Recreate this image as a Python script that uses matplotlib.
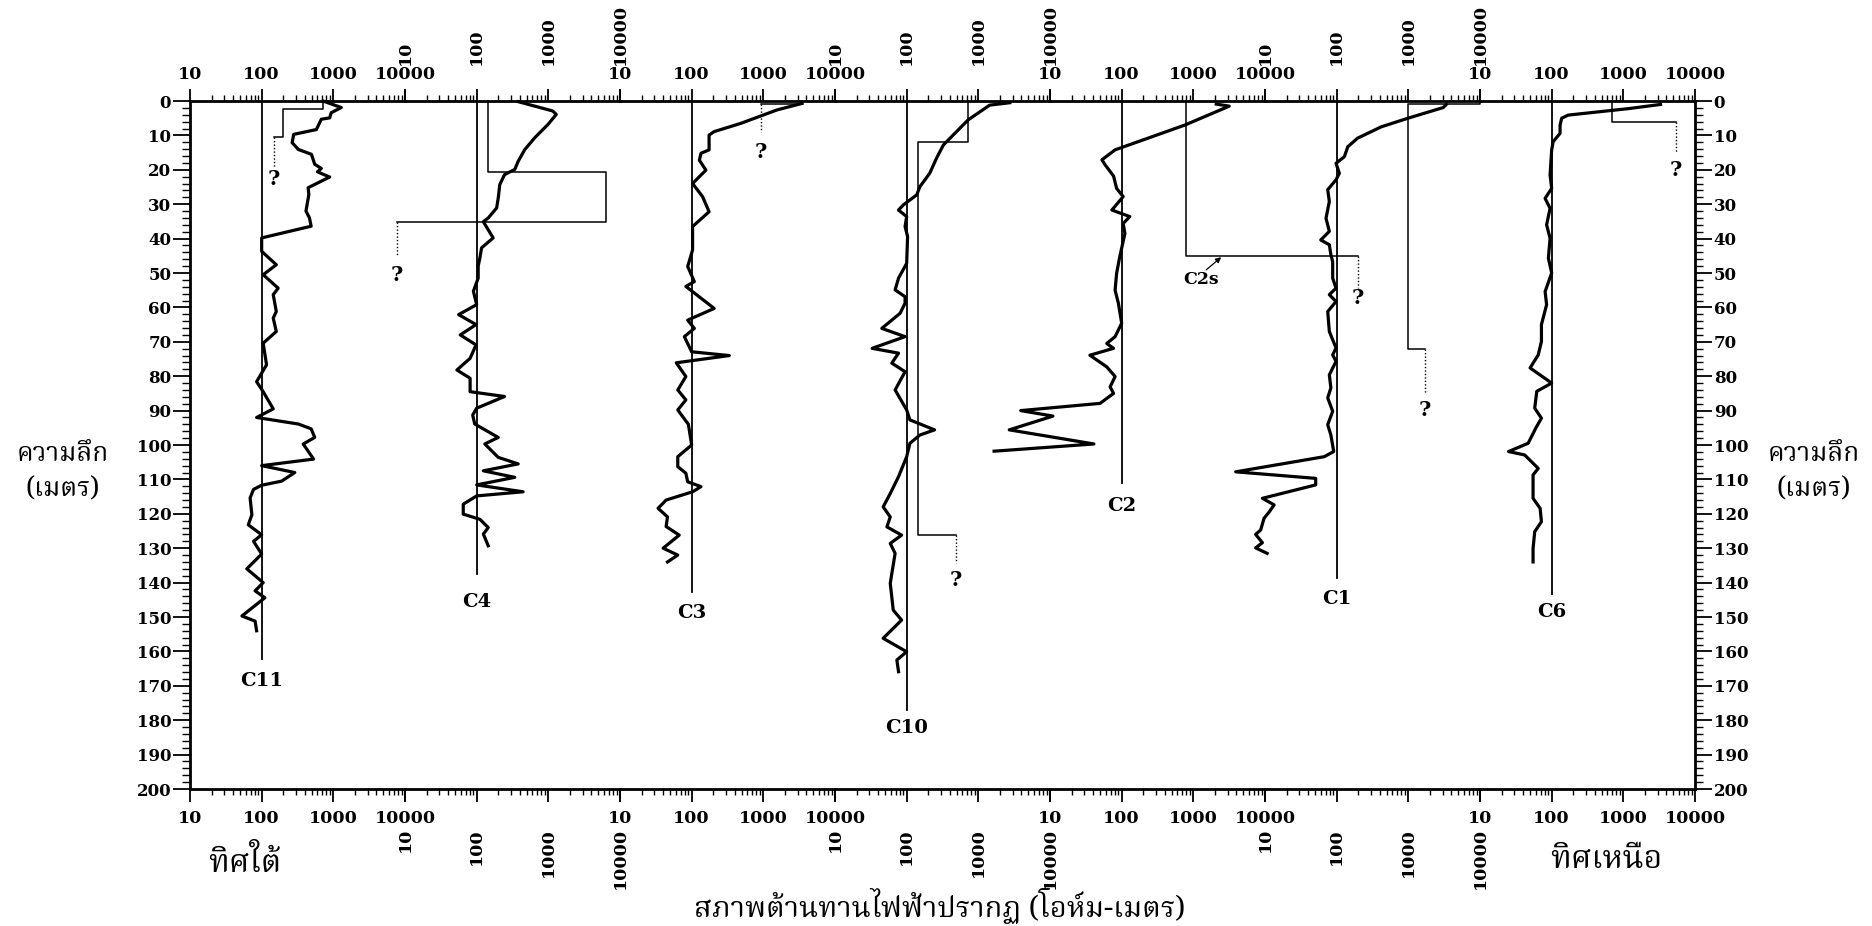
import numpy as np
import matplotlib
matplotlib.use("Agg")
import matplotlib.pyplot as plt
from matplotlib import font_manager
from matplotlib.ticker import FixedLocator, LogLocator, NullFormatter, MultipleLocator

# ---------------- data (depth m, apparent resistivity ohm-m) ----------------
stations = ["C11", "C4", "C3", "C10", "C2", "C1", "C6"]
decade_ticks = [10, 100, 1000, 10000]
decade_labels = ["10", "100", "1000", "10000"]

c11_profile = [(0, 718), (1.9, 1290), (3.4, 935), (4.9, 890), (5.3, 680), (8.3, 580), (9.7, 280),
               (12.1, 266), (14.1, 325), (15.5, 495), (18.4, 550), (19.6, 680), (20.6, 600),
               (22.1, 890), (25.2, 445), (27.2, 455), (32, 415), (34, 465), (36.4, 490), (39.8, 100),
               (43.7, 100), (47.6, 160), (50.5, 105), (54.4, 170), (56.3, 145), (61.2, 160),
               (63.1, 145), (67, 160), (70.4, 105), (76.7, 117), (81.6, 85), (84.5, 105), (89.5, 145),
               (92, 85), (93.9, 325), (95.3, 490), (97.8, 550), (99.7, 380), (104.1, 530), (106, 100),
               (108, 290), (110.5, 190), (111.7, 100), (112.9, 77), (115.4, 69), (120.3, 73),
               (123.2, 65), (126.1, 100), (128, 77), (131.7, 100), (136, 62), (140, 105), (142.4, 81),
               (144.4, 111), (149.7, 53), (151.2, 81), (154, 85)]
c4_profile = [(0.2, 380), (2.9, 1150), (3.9, 1290), (6.8, 990), (10.7, 645), (14.1, 470), (17.5, 380),
              (19.9, 340), (21.4, 245), (24.3, 210), (28.2, 200), (31.1, 190), (34, 145), (35.1, 124),
              (39.8, 170), (42.7, 117), (45.6, 111), (48, 105), (51.5, 105), (55.3, 90), (59.2, 100),
              (62.1, 56), (65, 98), (68, 59), (70.9, 98), (74.8, 81), (78.2, 53), (80.6, 81), (84.5, 81),
              (85.9, 245), (89.3, 100), (91.3, 88), (93.9, 94), (97.8, 200), (99.7, 130), (103.6, 200),
              (105.5, 380), (107.5, 124), (109.4, 340), (111.6, 100), (113.6, 445), (114.8, 100),
              (117.2, 65), (120.1, 65), (121.6, 111), (124, 145), (125.9, 124), (129.3, 145)]
c3_profile = [(0.7, 3470), (2.6, 1550), (6.5, 485), (8.9, 206), (9.9, 175), (14.2, 175), (15.2, 135),
              (17.2, 128), (20.1, 158), (22, 128), (24, 103), (27.8, 142), (32.2, 175), (36.5, 103),
              (43.3, 103), (48.1, 88), (52.5, 109), (53.9, 83), (60.3, 206), (63.7, 88), (66.1, 109),
              (68.5, 79), (72.9, 100), (74, 335), (76.1, 61), (80.1, 83), (84, 64), (86.9, 83),
              (89.8, 64), (94, 90), (100, 100), (103.4, 64), (106.3, 64), (108.2, 83), (110.7, 88),
              (112.1, 135), (113.6, 103), (116, 44), (118.4, 34), (120.9, 46), (123.7, 44), (126.2, 67),
              (130, 40), (132, 64), (134, 46)]
c10_profile = [(0.5, 2750), (1.2, 1440), (5.5, 720), (9.4, 470), (12.8, 325), (16.7, 260), (21, 210),
               (24.9, 153), (27.3, 138), (30.2, 90), (31.7, 77), (33.6, 100), (36.5, 95), (39.4, 103),
               (47.2, 100), (51.5, 77), (54.9, 69), (56.9, 95), (58.8, 95), (61.7, 81), (66.1, 45),
               (68.5, 95), (71.9, 33), (73.3, 77), (76.2, 62), (78.7, 95), (84, 69), (89.8, 100),
               (92.7, 111), (95.6, 245), (97.1, 153), (99.5, 111), (103.4, 100), (109.2, 77), (114.1, 59),
               (118, 47), (120.9, 59), (123.8, 53), (126.2, 85), (128.6, 59), (131.5, 69), (140.2, 59),
               (148, 65), (150.9, 85), (156.2, 47), (160.1, 100), (162.5, 73), (165.9, 77)]
c2_profile = [(0.9, 2090), (1.5, 3170), (7, 760), (14.2, 81), (17.1, 53), (18.6, 59), (21.8, 77),
              (25.4, 85), (27.8, 105), (31.7, 73), (33.6, 130), (35.6, 105), (38.5, 111), (45.3, 94),
              (50.1, 85), (55, 81), (58.8, 90), (64.6, 100), (68.5, 81), (70.5, 62), (71.9, 77),
              (73.9, 36), (77.3, 62), (80.1, 81), (83.1, 69), (85, 77), (87.9, 50), (90, 3.9),
              (91.6, 11), (95.6, 2.7), (99.7, 41), (101.8, 1.66)]
c1_profile = [(1, 3390), (1.9, 3070), (5, 990), (7.5, 420), (10.8, 196), (13.3, 143), (16.2, 128),
              (18.1, 98), (21, 109), (22.9, 98), (25.8, 75), (29.2, 79), (34.1, 71), (37.9, 79),
              (40.4, 60), (41.8, 79), (44.7, 83), (46.7, 88), (51.5, 88), (54.4, 98), (56.3, 79),
              (58.3, 98), (61.2, 75), (67, 79), (71.8, 98), (73.8, 88), (75.7, 98), (79.6, 79),
              (83.4, 83), (86.3, 75), (90.2, 88), (94.1, 75), (97.1, 83), (101.9, 91), (103.4, 67),
              (107.8, 3.9), (109.7, 51), (111.6, 51), (115.5, 9.2), (117.4, 13.4), (119.4, 11.5),
              (121.3, 9.7), (124.7, 8.7), (126, 7.4), (128.4, 9.2), (129.9, 7.4), (131.5, 10.7)]
c6_profile = [(1, 3300), (2.2, 1200), (4.1, 170), (5, 138), (7, 131), (9.4, 131), (11.8, 105),
              (14.2, 100), (21.5, 95), (25.4, 100), (28.3, 81), (31.2, 95), (36, 85), (39.9, 95),
              (45.7, 90), (50, 100), (55.4, 81), (59.2, 85), (65, 72), (69.9, 72), (73.8, 65),
              (77.6, 50), (82, 100), (84.4, 62), (89.3, 58), (92.2, 72), (95.1, 60), (99.5, 47),
              (101.9, 25), (102.9, 42), (106.8, 65), (108.7, 55), (115.5, 55), (118.4, 69),
              (122.3, 72), (125.2, 58), (130.1, 55), (134, 55)]

# layered interpretations (solid) and uncertain continuation (dotted) + "?" mark
c11_model = [(0, 718), (2.4, 718), (2.4, 198), (10.5, 198), (10.5, 147)]
c11_dotted = [(10.5, 147), (19.4, 147)]
c4_model = [(0, 145), (20.6, 145), (20.6, 6400), (35.1, 6400), (35.1, 7.8)]
c4_dotted = [(35.1, 7.8), (45.1, 7.8)]
c3_model = [(0, 3470), (0.9, 3470), (0.9, 920)]
c3_dotted = [(0.9, 920), (8.9, 920)]
c10_model = [(0, 720), (11.8, 720), (11.8, 145), (126.2, 145), (126.2, 485)]
c10_dotted = [(126.2, 485), (134.4, 485)]
c2_model = [(0, 783), (45, 783), (45, 200000)]
c2_dotted = [(45, 200000), (54.3, 200000)]
c1_model = [(0, 10000), (1, 10000), (1, 990), (72, 990), (72, 1700)]
c1_dotted = [(72, 1700), (84.9, 1700)]
c6_model = [(0, 695), (6.2, 695), (6.2, 5470)]
c6_dotted = [(6.2, 5470), (14.7, 5470)]

question_marks = [(22.8, 147), (50.5, 7.8), (14.7, 920), (139.1, 485), (57.4, 200000), (89.7, 1700), (20.0, 5470)]
ref_line_bottom = [162.3, 137.6, 142.6, 177.0, 111.1, 138.6, 143.2]
label_depth = [168.6, 145.5, 148.7, 182.4, 117.7, 144.7, 148.5]

profiles = [c11_profile, c4_profile, c3_profile, c10_profile, c2_profile, c1_profile, c6_profile]
models = [c11_model, c4_model, c3_model, c10_model, c2_model, c1_model, c6_model]
dotted = [c11_dotted, c4_dotted, c3_dotted, c10_dotted, c2_dotted, c1_dotted, c6_dotted]

# ---------------- fonts ----------------
plt.rcParams["font.family"] = "DejaVu Serif"
plt.rcParams["font.weight"] = "bold"


def find_thai_fonts():
    from matplotlib.ft2font import FT2Font
    names = []
    for fe in font_manager.fontManager.ttflist:
        try:
            f = FT2Font(fe.fname)
            if f.get_char_index(0x0E01) and f.get_char_index(0x0E36) and f.get_char_index(0x0E0E):
                if fe.name not in names:
                    names.append(fe.name)
        except Exception:
            continue
    pref = ["Noto Serif Thai", "Noto Sans Thai", "Noto Sans Thai UI", "Loma", "Garuda", "Norasi",
            "Tlwg Typo", "Laksaman", "Noto Sans", "Noto Serif"]
    names.sort(key=lambda n: pref.index(n) if n in pref else len(pref))
    return names


thai_fonts = find_thai_fonts() + ["DejaVu Sans"]

# ---------------- figure ----------------
W, H = 1872, 926
fig = plt.figure(figsize=(W / 100, H / 100), dpi=100)
x_left, x_right = 190 / W, 1695 / W
y_bot, y_top = 1 - 789 / H, 1 - 101 / H
pw = (x_right - x_left) / 7

spine_lw = 2.0
tick_fs = 12.5
for i, name in enumerate(stations):
    ax = fig.add_axes([x_left + i * pw, y_bot, pw, y_top - y_bot])
    ax.patch.set_visible(False)
    ax.set_xscale("log")
    ax.set_xlim(10, 10000)
    ax.set_ylim(200, 0)
    for s in ("top", "bottom", "left", "right"):
        ax.spines[s].set_linewidth(spine_lw)
    ax.spines["left"].set_visible(i == 0)
    ax.spines["right"].set_visible(i == 6)

    rotated = (i % 2 == 1)
    # bottom axis
    ax.xaxis.set_major_locator(FixedLocator(decade_ticks))
    ax.xaxis.set_minor_locator(LogLocator(base=10, subs=np.arange(2, 10)))
    ax.xaxis.set_minor_formatter(NullFormatter())
    ax.set_xticks(decade_ticks)
    ax.set_xticklabels(decade_labels, rotation=90 if rotated else 0,
                       fontsize=tick_fs, fontweight="bold")
    ax.tick_params(axis="x", which="major", direction="out", length=9, width=1.3,
                   pad=19 if rotated else 6)
    ax.tick_params(axis="x", which="minor", direction="out", length=4.5, width=1.0)

    # top axis
    tw = ax.twiny()
    tw.set_xscale("log")
    tw.set_xlim(10, 10000)
    for s in tw.spines.values():
        s.set_visible(False)
    tw.xaxis.set_major_locator(FixedLocator(decade_ticks))
    tw.xaxis.set_minor_locator(LogLocator(base=10, subs=np.arange(2, 10)))
    tw.xaxis.set_minor_formatter(NullFormatter())
    tw.set_xticks(decade_ticks)
    tw.set_xticklabels(decade_labels, rotation=90 if rotated else 0,
                       fontsize=tick_fs, fontweight="bold")
    tw.tick_params(axis="x", which="major", direction="out", length=9, width=1.3,
                   pad=17 if rotated else 4)
    tw.tick_params(axis="x", which="minor", direction="out", length=4.5, width=1.0)

    # y axis
    ax.yaxis.set_major_locator(MultipleLocator(10))
    ax.yaxis.set_minor_locator(MultipleLocator(2))
    if i == 0:
        ax.tick_params(axis="y", which="both", left=True, right=False, labelleft=True,
                       labelright=False, direction="out")
    elif i == 6:
        ax.tick_params(axis="y", which="both", left=False, right=True, labelleft=False,
                       labelright=True, direction="out")
    else:
        ax.tick_params(axis="y", which="both", left=False, right=False, labelleft=False,
                       labelright=False)
    ax.tick_params(axis="y", which="major", length=12, width=1.3, pad=1.5, labelsize=12)
    ax.tick_params(axis="y", which="minor", length=6, width=1.0)

    # reference line at 100 ohm-m and station label
    ax.plot([100, 100], [0, ref_line_bottom[i]], color="black", lw=1.3, clip_on=False)
    ax.text(100, label_depth[i], name, ha="center", va="center", fontsize=14,
            fontweight="bold", clip_on=False)

    # interpretation
    md, mr = zip(*models[i])
    ax.plot(mr, md, color="black", lw=1.1, clip_on=False)
    dd, dr = zip(*dotted[i])
    ax.plot(dr, dd, color="black", lw=1.0, ls=(0, (1, 1.5)), clip_on=False)
    qd, qr = question_marks[i]
    ax.text(qr, qd, "?", ha="center", va="center", fontsize=15, fontweight="bold", clip_on=False)

    # measured curve
    pd_, pr = zip(*profiles[i])
    ax.plot(pr, pd_, color="black", lw=2.3, clip_on=False, solid_joinstyle="round")

    if name == "C2":
        ax.text(1290, 52, "C2s", ha="center", va="center", fontsize=12.5, fontweight="bold",
                clip_on=False)
        ax.annotate("", xy=(2450, 45.4), xytext=(1510, 49.1),
                    arrowprops=dict(arrowstyle="-|>", lw=0.9, color="black",
                                    mutation_scale=8, shrinkA=0, shrinkB=0))

# Thai labels
fig.text(63 / W, 1 - 472 / H, "ความลึก\n(เมตร)", ha="center", va="center", fontsize=19,
         family=thai_fonts, fontweight="normal", linespacing=1.35)
fig.text(1814 / W, 1 - 472 / H, "ความลึก\n(เมตร)", ha="center", va="center", fontsize=19,
         family=thai_fonts, fontweight="normal", linespacing=1.35)
fig.text(245 / W, 1 - 864 / H, "ทิศใต้", ha="center", va="center", fontsize=23,
         family=thai_fonts, fontweight="normal")
fig.text(1606 / W, 1 - 860 / H, "ทิศเหนือ", ha="center", va="center", fontsize=23,
         family=thai_fonts, fontweight="normal")
fig.text(940 / W, 1 - 906 / H, "สภาพต้านทานไฟฟ้าปรากฏ (โอห์ม-เมตร)", ha="center", va="center",
         fontsize=21, family=thai_fonts, fontweight="normal")

fig.savefig("out.png", dpi=100, facecolor="white")
